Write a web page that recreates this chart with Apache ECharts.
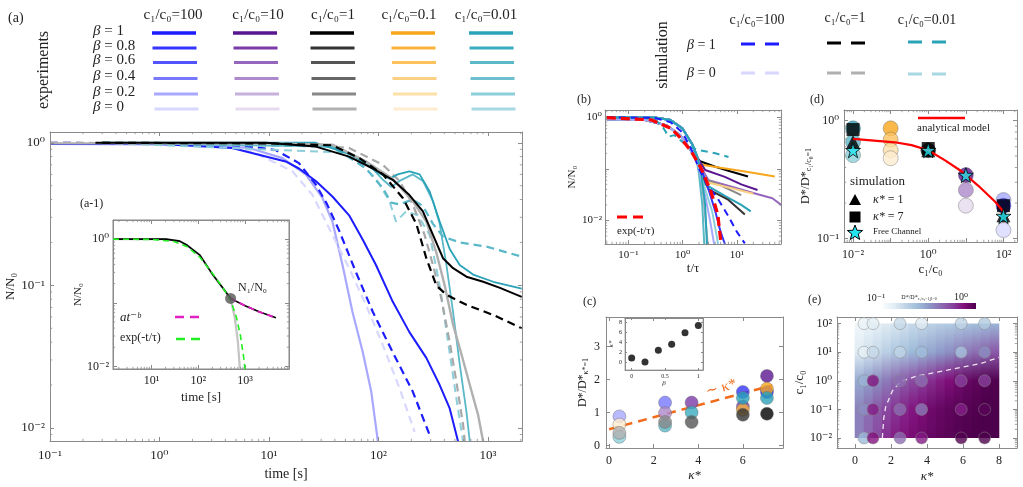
<!DOCTYPE html>
<html><head><meta charset="utf-8">
<script src="https://cdn.jsdelivr.net/npm/echarts@6/dist/echarts.min.js"></script>
<style>html,body{margin:0;padding:0;background:#fff}#c{width:1023px;height:487px}</style>
</head><body><div id="c"></div>
<script>
// ================= DATA =================
// legend (a)
const legendRatios = ['100', '10', '1', '0.1', '0.01'];
const legendBetas = ['1', '0.8', '0.6', '0.4', '0.2', '0'];
const simRatios = ['100', '1', '0.01'];
const simBetas = ['1', '0'];

// panel (a) main: [time s, N/N0]
const aExpC100B1 = [[0.1,0.98],[1,0.98],[4.6,0.92],[14.2,0.74],[18.8,0.66],[26.8,0.54],[38,0.42],[54,0.31],[71.8,0.21],[95,0.139],[135,0.077],[192,0.047],[274,0.031],[363,0.020],[448,0.0137],[535,0.008]];
const aExpC100B0 = [[0.1,0.98],[2,0.97],[6.6,0.92],[13.3,0.78],[21.7,0.60],[30.8,0.41],[38,0.28],[47,0.139],[58,0.065],[72,0.034],[86,0.018],[99,0.008]];
const aSimC100B1 = [[0.1,1.0],[3,0.98],[6,0.95],[11.5,0.89],[18.8,0.72],[26.8,0.51],[34,0.37],[44,0.24],[62,0.125],[89,0.065],[135,0.034],[206,0.018],[294,0.0089]];
const aSimC100B0 = [[0.1,1.0],[3,0.97],[7,0.87],[16.4,0.63],[25,0.43],[38,0.226],[54,0.132],[77,0.073],[110,0.038],[156,0.019],[214,0.0094]];
const aExpC1B1 = [[0.26,1.0],[9.3,1.0],[26.8,0.94],[54,0.80],[89,0.66],[135,0.55],[192,0.43],[255,0.33],[315,0.226],[389,0.155],[481,0.132],[637,0.115],[906,0.106],[1290,0.096],[2037,0.083]];
const aSimC1B1 = [[0.3,1.0],[10,0.99],[38,0.96],[67,0.78],[110,0.60],[167,0.41],[222,0.27],[274,0.155],[338,0.10],[417,0.086],[637,0.073],[1119,0.062],[2037,0.050]];
const aExpC1B0 = [[0.1,0.99],[10,0.99],[38,0.97],[77,0.74],[135,0.56],[206,0.39],[274,0.28],[338,0.17],[403,0.10],[481,0.053],[573,0.033],[684,0.020],[815,0.0123],[906,0.008]];
const aSimC1B0 = [[0.1,1.0],[20,0.98],[54,0.92],[110,0.70],[156,0.54],[206,0.37],[264,0.226],[315,0.139],[376,0.081],[448,0.040],[516,0.021],[594,0.0105],[616,0.008]];
const aExpC001B1 = [[0.3,1.0],[26.8,1.0],[58,0.82],[95,0.63],[126,0.56],[150,0.60],[192,0.63],[238,0.60],[294,0.455],[363,0.28],[448,0.18],[553,0.139],[733,0.119],[1119,0.106],[2037,0.095]];
const aExpC001B06 = [[0.3,1.0],[38,0.94],[77,0.74],[110,0.55],[131,0.49],[156,0.54],[206,0.60],[255,0.54],[315,0.39],[363,0.27],[418,0.139],[481,0.065],[553,0.028],[637,0.013],[684,0.008]];
const aSimC001B1 = [[0.3,1.0],[38,0.94],[77,0.66],[110,0.48],[131,0.38],[156,0.37],[206,0.40],[255,0.36],[315,0.27],[389,0.22],[553,0.20],[972,0.187],[2037,0.159]];
const aSimC001B0 = [[0.3,1.0],[54,0.85],[95,0.56],[126,0.39],[145,0.28],[179,0.33],[229,0.31],[294,0.226],[363,0.10],[433,0.040],[516,0.016],[594,0.008]];

// inset (a-1)
const insBlack = [[1.5,1.0],[20,1.0],[40,0.93],[58,0.80],[108,0.56],[208,0.27],[341,0.168],[490,0.117],[1000,0.09],[2000,0.072],[4570,0.058]];
const insGray = [[1.5,1.0],[20,1.0],[40,0.93],[58,0.80],[108,0.56],[208,0.27],[341,0.168],[490,0.117],[600,0.06],[700,0.025],[776,0.009]];
const insExp = [[1.5,1.0],[10,0.99],[30,0.92],[58,0.76],[108,0.52],[208,0.28],[341,0.17],[490,0.11],[650,0.06],[800,0.03],[920,0.015],[1000,0.009]];
const insPow = [[490,0.117],[1000,0.09],[2000,0.072],[4570,0.058]];
const insPoint = [[490,0.117]];

// panel (b): [t/tau, N/N0]
const bPrefA = [[0.04,1.0],[0.3,0.99],[0.6,0.88],[1.0,0.6],[1.5,0.3],[1.9,0.16]];
const bPrefB = [[0.04,0.9],[0.2,0.88],[0.5,0.7],[0.9,0.45],[1.3,0.26],[1.8,0.15]];
const bTails = [
  {g:'c1_b1',  p:'A', d:[[2.1,0.14],[4,0.11],[8,0.088],[16,0.071]]},
  {g:'c01_b1', p:'B', d:[[2.3,0.12],[5,0.105],[15,0.088],[50,0.071]]},
  {g:'c10_b1', p:'A', d:[[2.6,0.095],[6,0.07],[12,0.05],[24,0.039]]},
  {g:'c10_b06',p:'B', d:[[3,0.06],[8,0.045],[20,0.034],[45,0.027],[70,0.019]]},
  {g:'c1_b02', p:'A', d:[[2.4,0.065],[5,0.048],[12,0.031]]},
  {g:'c01_b04',p:'B', d:[[2.8,0.055],[8,0.042],[20,0.033]]},
  {g:'c001_b1',p:'A', d:[[2.6,0.05],[6,0.03],[12,0.02],[18,0.015]]},
  {g:'c1_b08', p:'B', d:[[3,0.04],[7,0.025],[14,0.013]]},
  {g:'c1_b0',  p:'A', d:[[2.1,0.09],[2.4,0.03],[2.7,0.008],[2.9,0.0035]]},
  {g:'c001_b06',p:'B',d:[[2.0,0.08],[2.3,0.02],[2.5,0.0035]]},
  {g:'c100_b08',p:'A',d:[[2.2,0.1],[3,0.04],[4,0.015],[5,0.006],[6,0.0035]]},
  {g:'c100_b02',p:'B',d:[[2.0,0.1],[2.6,0.03],[3.2,0.01],[3.8,0.0035]]},
  {g:'c001_b02',p:'A',d:[[2.3,0.06],[3.5,0.015],[4.5,0.0035]]},
  {g:'c001_b1',p:'A', d:[[2.2,0.08],[2.6,0.02],[2.8,0.0035]]}
];
const bSimBlue = [[0.04,1.0],[0.3,0.97],[0.6,0.8],[1,0.5],[1.5,0.22],[2,0.1],[3,0.045],[4.4,0.027],[7,0.012],[10,0.006],[14,0.0036]];
const bSimTeal = [[0.04,1.0],[0.3,0.95],[0.45,0.6],[0.55,0.42],[0.7,0.45],[1.2,0.28],[2,0.23],[4,0.2],[7,0.17]];
const bExpFit = [[0.04,0.98],[0.26,0.89],[0.61,0.61],[0.93,0.39],[1.43,0.22],[2.18,0.103],[3.34,0.036],[4.45,0.013],[5.1,0.0035]];

// panel (c): [kappa*, D*/D*_{kappa=1}, group]
const cPoints = [
  [0.46,0.88,'c100_b02'],[0.46,0.63,'c01_b0'],[0.46,0.26,'c001_b02'],[0.46,0.38,'c1_b0'],
  [2.51,1.3,'c100_b04'],[2.51,0.98,'c10_b04'],[2.51,0.6,'c001_b06'],[2.51,0.71,'c1_b02'],
  [3.7,1.3,'c10_b08'],[3.7,1.0,'c001_b08'],[3.7,0.71,'c1_b06'],
  [6.0,1.62,'c100_b08'],[6.0,1.18,'c10_b08'],[6.0,1.08,'c01_b08'],[6.0,1.44,'c001_b1'],[6.0,0.93,'c1_b08'],
  [7.08,2.11,'c10_b1'],[7.08,1.62,'c100_b1'],[7.08,1.72,'c01_b1'],[7.08,1.44,'c001_b1'],[7.08,0.96,'c1_b1']
];
const cTrend = [[0,0.49],[7.3,1.82]];
const cInsetBeta = [0, 0.2, 0.4, 0.6, 0.8, 1];
const cInsetKappa = [0.9, 0.1, 2.4, 3.6, 5.9, 7.3];

// panel (d): [c1/c0, D*/D*_{c1/c0=1}, group]
const dCircles = [
  [0.01,0.86,'c001_b1'],[0.01,0.66,'c001_b06'],[0.01,0.51,'c001_b02'],
  [0.1,0.86,'c01_b1'],[0.1,0.69,'c01_b06'],[0.1,0.56,'c01_b02'],[0.1,0.48,'c01_b0'],
  [1,0.56,'c1_b1'],
  [10,0.19,'c10_b0'],[10,0.258,'c10_b04'],[10,0.345,'c10_b1'],
  [100,0.118,'c100_b0'],[100,0.212,'c100_b02'],[100,0.19,'c100_b1']
];
const dTriangles = [[0.01,0.66],[1,0.56],[100,0.158]];
const dSquares = [[0.01,0.84],[1,0.58],[100,0.19]];
const dStars = [[0.01,0.56],[1,0.56],[10,0.345],[100,0.155]];
const dModel = [[0.01,0.70],[0.13,0.655],[0.36,0.62],[1,0.56],[2.8,0.46],[7.8,0.37],[21.5,0.28],[60,0.205],[100,0.169]];

// panel (e)
const eKappaEdges = [0,0.5,1,1.5,2,2.5,3,3.5,4,4.5,5,5.5,6,6.5,7,7.5,8];
const eRowC = [100, 10, 1, 0.1, 0.01];
const eFieldLog = [ // log10(D*/D*) per strip of width 0.5 in kappa*, rows c1/c0 = 100 .. 0.01
  [-.96,-.93,-.90,-.87,-.84,-.81,-.78,-.76,-.74,-.72,-.70,-.68,-.66,-.64,-.62,-.60],
  [-.87,-.82,-.78,-.73,-.69,-.66,-.62,-.58,-.55,-.51,-.48,-.44,-.41,-.38,-.35,-.32],
  [-.57,-.52,-.47,-.42,-.37,-.32,-.28,-.24,-.20,-.16,-.12,-.09,-.06,-.04,-.02,-.01],
  [-.44,-.38,-.32,-.27,-.22,-.18,-.14,-.11,-.08,-.06,-.04,-.03,-.02,-.01,0,0],
  [-.44,-.36,-.28,-.21,-.16,-.13,-.10,-.08,-.06,-.04,-.03,-.02,-.01,0,0,0]
];
const eKappaCols = [0.5,1.0,2.5,3.7,5.9,7.2];
const eCircleD = [ // rows c=100..0.01
  [0.120,0.132,0.166,0.135,0.178,0.200],
  [0.126,0.166,0.178,0.234,0.219,0.331],
  [0.251,0.724,0.417,0.417,0.562,0.562],
  [0.331,0.692,0.417,0.380,0.676,0.933],
  [0.240,0.741,0.417,0.708,0.977,1.000]
];
const eBoundary = [[1.52,0.01],[1.6,0.05],[1.7,0.12],[2.08,0.45],[2.54,0.95],[3.47,1.49],[5.13,2.35],[6.98,4.0],[8,6.6]];

// ================= STYLE =================
const SERIF = "'Liberation Serif','DejaVu Serif',serif";
const PAL = {
 c100_b1:'#1c1cff', c100_b08:'#3535ff', c100_b06:'#5454ff', c100_b04:'#7878ff', c100_b02:'#a8a8ff', c100_b0:'#d8d8ff',
 c10_b1:'#5a1590', c10_b08:'#7a3aa8', c10_b06:'#9566bb', c10_b04:'#ac8acb', c10_b02:'#c8b0dc', c10_b0:'#e6dbee',
 c1_b1:'#000000', c1_b08:'#333333', c1_b06:'#555555', c1_b04:'#666666', c1_b02:'#888888', c1_b0:'#b0b0b0',
 c01_b1:'#f8a61c', c01_b08:'#f9b23a', c01_b06:'#fbc25e', c01_b04:'#fcd082', c01_b02:'#fde0a8', c01_b0:'#feecd0',
 c001_b1:'#2aa3b8', c001_b08:'#3aacbf', c001_b06:'#5ab8c8', c001_b04:'#6ec0d0', c001_b02:'#8ccfda', c001_b0:'#a8d8e2'
};
const ratioKey = {'100':'c100','10':'c10','1':'c1','0.1':'c01','0.01':'c001'};
const betaKey = {'1':'b1','0.8':'b08','0.6':'b06','0.4':'b04','0.2':'b02','0':'b0'};
const BUPU = ['#f7fcfd','#e0ecf4','#bfd3e6','#9ebcda','#8c96c6','#8c6bb1','#88419d','#810f7c','#4d004b'];
function hex2rgb(h){return [parseInt(h.slice(1,3),16),parseInt(h.slice(3,5),16),parseInt(h.slice(5,7),16)];}
function cmapLog(L){
  let t = L + 1; t = Math.max(0, Math.min(1, t));
  const f = t*(BUPU.length-1); const i = Math.min(BUPU.length-2, Math.floor(f)); const r = f - i;
  const a = hex2rgb(BUPU[i]), b = hex2rgb(BUPU[i+1]);
  return 'rgb(' + a.map((v,k)=>Math.round(v+(b[k]-v)*r)).join(',') + ')';
}
function cmap(D){ return cmapLog(Math.log10(D)); }
const STAR = 'path://M50,2 L61,36 L97,36 L68,57 L79,92 L50,71 L21,92 L32,57 L3,36 L39,36 Z';
const SUP = {'-':'⁻','0':'⁰','1':'¹','2':'²','3':'³','4':'⁴','5':'⁵','6':'⁶','7':'⁷','8':'⁸','9':'⁹'};
function supStr(e){return String(e).split('').map(c=>SUP[c]).join('');}
function logFmt(show){return v=>{const l=Math.log10(v), e=Math.round(l); if(Math.abs(l-e)>1e-6) return ''; if(show && show.indexOf(e)<0) return ''; return '10'+supStr(e);};}
function linFmt(step){return v=>{const r=v/step; if(Math.abs(r-Math.round(r))>1e-6) return ''; return String(+v.toFixed(3));};}

const grids = [
  {left:50, top:132, width:472, height:309},   // 0 main (a)
  {left:113, top:220, width:176, height:149, show:true, backgroundColor:'#fff', borderColor:'#888', borderWidth:1}, // 1 inset
  {left:605, top:110, width:176, height:134},  // 2 (b)
  {left:606, top:317, width:177, height:131},  // 3 (c)
  {left:625, top:318, width:78, height:52, show:true, backgroundColor:'#fff', borderColor:'#999', borderWidth:0.8}, // 4 (c) inset
  {left:844, top:110, width:173, height:132},  // 5 (d)
  {left:837, top:317, width:180, height:131}   // 6 (e)
];
const axDefs = [
  {x:{type:'log',min:0.1,max:2050,fs:13,margin:8,name:'time [s]',nfs:14,gap:24}, y:{type:'log',min:0.0081,max:1.19,fs:13,margin:5,name:'N/N₀',nfs:13,gap:28}},
  {x:{type:'log',min:1.5,max:8700,fs:12,margin:6,name:'time [s]',nfs:13,gap:22,show:[1,2,3]}, y:{type:'log',min:0.0091,max:2.0,fs:12,margin:4,name:'N/N₀',nfs:11,gap:14,show:[0,-2]}},
  {x:{type:'log',min:0.037,max:65,fs:11,margin:6,name:'t/τ',nfs:13,gap:16}, y:{type:'log',min:0.0035,max:1.38,fs:11,margin:3,name:'N/N₀',nfs:11,gap:8,show:[0,-2]}},
  {x:{type:'value',min:-0.14,max:7.8,split:4,step:2,fs:12,margin:7,name:'κ*',nfs:13,gap:21,italic:true}, y:{type:'value',min:-0.08,max:3.9,split:4,step:1,fs:12,margin:6,name:'{a|D*/D*}{s|κ*=1}',nfs:12,gap:14}},
  {x:{type:'value',min:-0.1,max:1.07,split:2,step:0.5,fs:6,margin:3,name:'β',nfs:7,gap:9,italic:true}, y:{type:'value',min:-1.5,max:8.8,split:5,step:2,fs:6,margin:3,name:'κ*',nfs:7,gap:4,italic:true}},
  {x:{type:'log',min:0.00575,max:229,fs:12,margin:7,name:'c₁/c₀',nfs:13,gap:21,show:[-2,0,2]}, y:{type:'log',min:0.0935,max:1.23,fs:12,margin:5,name:'{a|D*/D*}{s|c₁/c₀=1}',nfs:12,gap:26}},
  {x:{type:'value',min:-1,max:9,split:5,step:2,fs:12,margin:7,name:'κ*',nfs:13,gap:22,italic:true}, y:{type:'log',min:0.00447,max:170,fs:12,margin:5,name:'c₁/c₀',nfs:13,gap:26}}
];
const xAxes=[], yAxes=[];
function mkAxis(gi, d, dim, mirror){
  const isX = dim==='x';
  const a = {
    gridIndex: gi, type: d.type, min: d.min, max: d.max,
    position: isX ? (mirror?'top':'bottom') : (mirror?'right':'left'),
    axisLine:{show:true, onZero:false, lineStyle:{color:'#8a8a8a', width:1}},
    axisTick:{show:true, inside:true, length: gi===4?2:4, lineStyle:{color:'#8a8a8a'}},
    splitLine:{show:false},
    axisLabel:{show:!mirror, fontFamily:SERIF, fontSize:d.fs, color:'#222', margin:d.margin,
      formatter: d.type==='log' ? logFmt(d.show) : linFmt(d.step)},
    name: mirror ? '' : d.name, nameLocation:'middle', nameGap:d.gap,
    nameTextStyle:{fontFamily:SERIF, fontSize:d.nfs, color:'#222', fontStyle: d.italic?'italic':'normal',
      rich:{a:{fontFamily:SERIF,fontSize:d.nfs,color:'#222'}, s:{fontFamily:SERIF,fontSize:Math.round(d.nfs*0.7),color:'#222',padding:[7,0,0,0]}}},
    z: 3
  };
  if(d.type==='log') a.logBase = 10;
  if(d.split) a.splitNumber = d.split;
  return a;
}
grids.forEach((g,gi)=>{
  xAxes.push(mkAxis(gi, axDefs[gi].x, 'x', false)); xAxes.push(mkAxis(gi, axDefs[gi].x, 'x', true));
  yAxes.push(mkAxis(gi, axDefs[gi].y, 'y', false)); yAxes.push(mkAxis(gi, axDefs[gi].y, 'y', true));
});

const series = [];
function addLine(gi, data, color, width, dash, z){
  series.push({type:'line', xAxisIndex:2*gi, yAxisIndex:2*gi, data, symbol:'none', silent:true, animation:false,
    lineStyle:{color, width, type: dash ? dash : 'solid', cap:'butt'}, z: z||2});
}
// minor ticks for log axes
const MINOR = [2,3,4,5,6,7,8,9];
function addMinor(gi, anchor){
  const ad = axDefs[gi];
  series.push({type:'custom', xAxisIndex:2*gi, yAxisIndex:2*gi, data:[anchor], silent:true, z:4, clip:false,
    renderItem:(params, api)=>{
      const cs = params.coordSys, ch = [], L = 2.2;
      const st = {stroke:'#8a8a8a', lineWidth:0.8};
      if(ad.x.type==='log'){
        for(let e=Math.floor(Math.log10(ad.x.min)); e<=Math.ceil(Math.log10(ad.x.max)); e++) MINOR.forEach(k=>{
          const v = k*Math.pow(10,e); if(v<=ad.x.min||v>=ad.x.max) return;
          const px = api.coord([v, anchor[1]])[0];
          ch.push({type:'line', shape:{x1:px,y1:cs.y+cs.height,x2:px,y2:cs.y+cs.height-L}, style:st});
          ch.push({type:'line', shape:{x1:px,y1:cs.y,x2:px,y2:cs.y+L}, style:st});
        });
      }
      if(ad.y.type==='log'){
        for(let e=Math.floor(Math.log10(ad.y.min)); e<=Math.ceil(Math.log10(ad.y.max)); e++) MINOR.forEach(k=>{
          const v = k*Math.pow(10,e); if(v<=ad.y.min||v>=ad.y.max) return;
          const py = api.coord([anchor[0], v])[1];
          ch.push({type:'line', shape:{x1:cs.x,y1:py,x2:cs.x+L,y2:py}, style:st});
          ch.push({type:'line', shape:{x1:cs.x+cs.width,y1:py,x2:cs.x+cs.width-L,y2:py}, style:st});
        });
      }
      return {type:'group', children:ch};
    }});
}
addMinor(0,[1,0.5]); addMinor(1,[10,0.5]); addMinor(2,[1,0.5]); addMinor(5,[1,0.5]); addMinor(6,[4,1]);

// ---- panel (a)
const DASH = [8,5];
addLine(0, aExpC100B0, PAL.c100_b02, 2.2);
addLine(0, aSimC100B0, PAL.c100_b0, 2.2, DASH);
addLine(0, aSimC100B1, PAL.c100_b1, 2.2, DASH);
addLine(0, aExpC100B1, PAL.c100_b1, 2);
addLine(0, aSimC001B0, PAL.c001_b02, 2, DASH);
addLine(0, aSimC001B1, PAL.c001_b06, 2.2, DASH);
addLine(0, aSimC1B0, '#a8a8a8', 2.2, DASH);
addLine(0, aExpC001B06, PAL.c001_b06, 1.8);
addLine(0, aExpC001B1, PAL.c001_b1, 1.8);
addLine(0, aExpC1B0, PAL.c1_b0, 2.4);
addLine(0, aSimC1B1, '#000', 2.2, DASH);
addLine(0, aExpC1B1, '#000', 2);
// inset
addLine(1, insGray, '#c4c4c4', 2.2);
addLine(1, insBlack, '#000', 1.6);
addLine(1, insExp, '#22ee22', 1.6, [6,4], 3);
addLine(1, insPow, '#e020c0', 2, [6,4], 3);
series.push({type:'scatter', xAxisIndex:2, yAxisIndex:2, data:insPoint, symbolSize:11, itemStyle:{color:'#555'}, z:5, silent:true});

// ---- panel (b)
bTails.forEach(t=>{ addLine(2, (t.p==='A'?bPrefA:bPrefB).concat(t.d), PAL[t.g], 2); });
addLine(2, bSimTeal, PAL.c001_b1, 2, [7,5]);
addLine(2, bSimBlue, PAL.c100_b1, 2, [7,5]);
addLine(2, bExpFit, '#ff0000', 3.2, [9,5], 3);

// ---- panel (c)
addLine(3, cTrend, '#f26a1b', 2.5, [9,6], 2);
series.push({type:'scatter', xAxisIndex:6, yAxisIndex:6, data:cPoints, symbolSize:13, z:3, silent:true,
  itemStyle:{color:p=>PAL[p.data[2]], borderColor:'#666', borderWidth:0.5}});
series.push({type:'scatter', xAxisIndex:8, yAxisIndex:8, data:cInsetBeta.map((b,i)=>[b,cInsetKappa[i]]), symbolSize:7, z:5, silent:true, itemStyle:{color:'#000'}});

// ---- panel (d)
series.push({type:'scatter', xAxisIndex:10, yAxisIndex:10, data:dCircles, symbolSize:15, z:2, silent:true,
  itemStyle:{color:p=>PAL[p.data[2]], borderColor:'#666', borderWidth:0.5}});
series.push({type:'scatter', xAxisIndex:10, yAxisIndex:10, data:dSquares, symbol:'rect', symbolSize:13, z:3, silent:true, itemStyle:{color:'#000'}});
series.push({type:'scatter', xAxisIndex:10, yAxisIndex:10, data:dTriangles, symbol:'triangle', symbolSize:14, z:3, silent:true, itemStyle:{color:'#000'}});
addLine(5, dModel, '#ff0000', 2.2, null, 4);
series.push({type:'scatter', xAxisIndex:10, yAxisIndex:10, data:dStars, symbol:STAR, symbolSize:15, z:5, silent:true, itemStyle:{color:'#22e5f0', borderColor:'#000', borderWidth:1}});

// ---- panel (e)
series.push({type:'custom', xAxisIndex:12, yAxisIndex:12, silent:true, z:1,
  data: eKappaEdges.slice(0,-1).map((k,i)=>[k, eKappaEdges[i+1]]),
  renderItem:(params, api)=>{
    const i = params.dataIndex;
    const p0 = api.coord([api.value(0), eRowC[0]]), p1 = api.coord([api.value(1), eRowC[eRowC.length-1]]);
    const stops = eRowC.map((c,r)=>({offset:r/(eRowC.length-1), color:cmapLog(eFieldLog[r][i])}));
    return {type:'rect', shape:{x:p0[0]-0.3, y:p0[1], width:p1[0]-p0[0]+0.6, height:p1[1]-p0[1]},
      style:{fill:new echarts.graphic.LinearGradient(0,0,0,1,stops)}};
  }});
addLine(6, eBoundary, '#f2e6f4', 1.3, [5,4], 3);
const eCircles = [];
eRowC.forEach((c,r)=>eKappaCols.forEach((k,j)=>eCircles.push([k, c, eCircleD[r][j]])));
series.push({type:'scatter', xAxisIndex:12, yAxisIndex:12, data:eCircles, symbolSize:12, z:4, silent:true,
  itemStyle:{color:p=>cmap(p.data[2]), borderColor:'#8a8a8a', borderWidth:0.6}});

// ================= GRAPHIC (legends & labels) =================
const G = [];
function txt(x,y,text,fs,opt){ opt=opt||{}; G.push({type:'text', x, y, rotation:opt.rot||0, z:10,
  style:{text, fontFamily:SERIF, fontSize:fs, fill:opt.fill||'#222', align:opt.align||'left', verticalAlign:'middle', fontStyle:opt.italic?'italic':'normal', rich:opt.rich}}); }
function seg(x1,y1,x2,y2,color,w,dash){ G.push({type:'line', z:10, shape:{x1,y1,x2,y2}, style:{stroke:color, lineWidth:w, lineDash:dash||null}}); }
const betaRich = {i:{fontFamily:SERIF, fontStyle:'italic', fontSize:15, fill:'#222'}};
txt(8,18,'(a)',14);
txt(44,70,'experiments',16,{rot:Math.PI/2, align:'center'});
const colX = [152,233,310,391,469], rowY=[33,48,62.5,78.5,94,109], hdrX=[173,258,333,409,486];
legendRatios.forEach((r,ci)=>{
  txt(hdrX[ci],15,'c₁/c₀='+r,15,{align:'center'});
  legendBetas.forEach((b,ri)=>{ seg(colX[ci]+ri*0.5,rowY[ri],colX[ci]+44+ri*0.5,rowY[ri],PAL[ratioKey[r]+'_'+betaKey[b]], ri===0?3.6:3.2); });
});
legendBetas.forEach((b,ri)=>txt(93,rowY[ri]-2,'{i|β} = '+b,15,{rich:betaRich}));
// simulation legend
txt(663,55,'simulation',16,{rot:Math.PI/2, align:'center'});
const simX=[741,827,908], simHdr=[757,845,927], simY=[[44,43,42],[73,73,74]];
simRatios.forEach((r,ci)=>{
  txt(simHdr[ci], ci===1?18:20, 'c₁/c₀='+r, 14, {align:'center'});
  simBetas.forEach((b,ri)=>{ const col = ri===0 ? PAL[ratioKey[r]+'_b1'] : (r==='1'?'#b0b0b0':PAL[ratioKey[r]+'_b0']);
    seg(simX[ci],simY[ri][ci],simX[ci]+39,simY[ri][ci],col,3,[14,10]); });
});
simBetas.forEach((b,ri)=>txt(687,ri===0?45:73,'{i|β} = '+b,14,{rich:{i:{fontFamily:SERIF,fontStyle:'italic',fontSize:14,fill:'#222'}}}));
// inset labels
txt(80,204,'(a-1)',12);
txt(238,288,'N₁/N₀',12);
txt(120,318,'at⁻ᵇ',13,{italic:true});
seg(175,317,202,317,'#e020c0',2.4,[9,6]);
txt(120,338,'exp(-t/τ)',12);
seg(176,339,202,339,'#22ee22',2.4,[9,6]);
// (b)
txt(577,100,'(b)',12);
seg(617,217,645,217,'#ff0000',3.2,[10,6]);
txt(617,231,'exp(-t/τ)',11);
// (c)
txt(583,302,'(c)',12);
txt(721,388,'∼ κ*',15,{fill:'#f26a1b', rot:0.27, align:'center', italic:false});
// (d)
txt(810,100,'(d)',12);
seg(918,118,965,118,'#ff0000',2.4);
txt(917,128,'analytical model',11);
txt(850,182,'simulation',13);
G.push({type:'polygon', z:10, shape:{points:[[855,194],[849,205],[861,205]]}, style:{fill:'#000'}});
txt(873,200,'{i|κ*} = 1',12,{rich:{i:{fontFamily:SERIF,fontStyle:'italic',fontSize:12,fill:'#222'}}});
G.push({type:'rect', z:10, shape:{x:849.5,y:211.5,width:11,height:11}, style:{fill:'#000'}});
txt(873,217,'{i|κ*} = 7',12,{rich:{i:{fontFamily:SERIF,fontStyle:'italic',fontSize:12,fill:'#222'}}});
const starPts = [];
for(let k=0;k<10;k++){ const a=-Math.PI/2+k*Math.PI/5, r=(k%2===0)?8:3.4; starPts.push([855+r*Math.cos(a), 233+r*Math.sin(a)]); }
G.push({type:'polygon', z:10, shape:{points:starPts}, style:{fill:'#22e5f0', stroke:'#000', lineWidth:1}});
txt(873,232,'Free Channel',9);
// (e)
txt(808,300,'(e)',12);
G.push({type:'rect', z:10, shape:{x:883,y:303,width:93,height:6},
  style:{fill:new echarts.graphic.LinearGradient(0,0,1,0,BUPU.map((c,i)=>({offset:i/(BUPU.length-1),color:c})))}});
txt(876,298,'10⁻¹',10,{align:'center'});
txt(961,297,'10⁰',10,{align:'center'});
txt(919,297,'{a|D*/D*}{s|c₁/c₀=1,β=0}',6,{align:'center', rich:{a:{fontFamily:SERIF,fontSize:6,fill:'#222'}, s:{fontFamily:SERIF,fontSize:4,fill:'#222',padding:[3,0,0,0]}}});

const chart = echarts.init(document.getElementById('c'), null, {renderer:'canvas'});
chart.setOption({
  animation:false, backgroundColor:'#fff',
  grid: grids.map(g=>Object.assign({containLabel:false}, g)),
  xAxis: xAxes, yAxis: yAxes, series, graphic: G
});
</script></body></html>
